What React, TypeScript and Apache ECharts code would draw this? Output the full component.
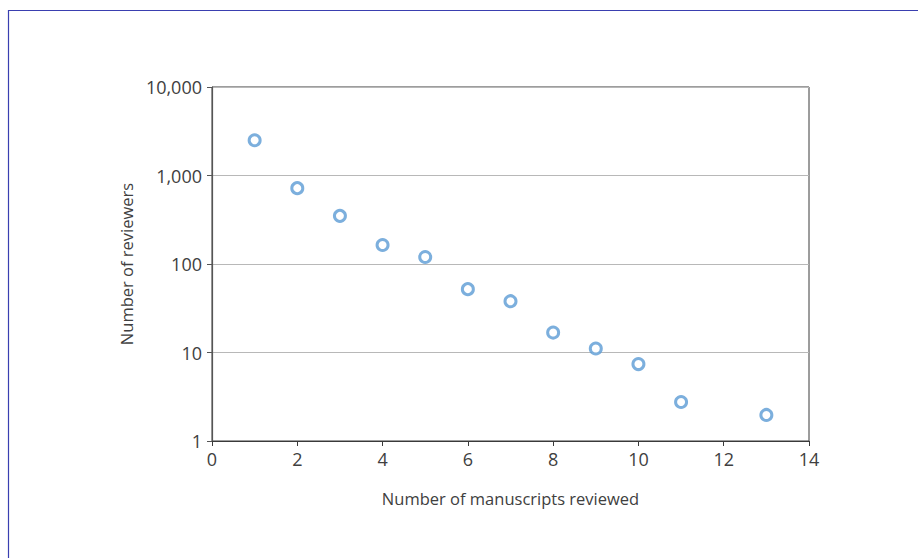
import React, { useEffect, useRef } from "react";
import * as echarts from "echarts";

const manuscripts = [1, 2, 3, 4, 5, 6, 7, 8, 9, 10, 11, 13];
const reviewers = [2500, 720, 350, 164, 120, 52, 38, 16.8, 11.1, 7.4, 2.76, 1.97];
const xTicks = [0, 2, 4, 6, 8, 10, 12, 14];
const yTicks = [1, 10, 100, 1000, 10000];
const xTitle = "Number of manuscripts reviewed";
const yTitle = "Number of reviewers";

export default function App() {
  const ref = useRef<HTMLDivElement>(null);
  useEffect(() => {
    if (!ref.current) return;
    const chart = echarts.init(ref.current, null, { renderer: "svg" });
    const font = "'Open Sans', sans-serif";
    const textColor = "#404040";
    chart.setOption({
      animation: false,
      backgroundColor: "#ffffff",
      grid: {
        left: 212,
        right: 109,
        top: 87,
        bottom: 117,
        show: true,
        borderColor: "#3a3a3a",
        borderWidth: 1,
      },
      graphic: [
        { type: "line", shape: { x1: 8.5, y1: 10, x2: 8.5, y2: 558 }, style: { stroke: "#3a3fb0", lineWidth: 1.2 } },
        { type: "line", shape: { x1: 8, y1: 10.5, x2: 918, y2: 10.5 }, style: { stroke: "#3a3fb0", lineWidth: 1.2 } },
      ],
      xAxis: {
        type: "value",
        min: xTicks[0],
        max: xTicks[xTicks.length - 1],
        interval: 2,
        name: xTitle,
        nameLocation: "middle",
        nameGap: 49,
        nameTextStyle: { fontFamily: font, fontSize: 16.5, color: textColor },
        axisLine: { show: true, lineStyle: { color: "#3a3a3a", width: 1.2 } },
        axisTick: { show: true, length: 5, lineStyle: { color: "#3a3a3a" } },
        axisLabel: { fontFamily: font, fontSize: 18, color: textColor, margin: 9 },
        splitLine: { show: false },
      },
      yAxis: {
        type: "log",
        logBase: 10,
        min: yTicks[0],
        max: yTicks[yTicks.length - 1],
        name: yTitle,
        nameLocation: "middle",
        nameGap: 76,
        nameTextStyle: { fontFamily: font, fontSize: 16.5, color: textColor },
        axisLine: { show: true, lineStyle: { color: "#555555", width: 1.2 } },
        axisTick: { show: true, length: 5, lineStyle: { color: "#555555" } },
        axisLabel: {
          fontFamily: font,
          fontSize: 18,
          color: textColor,
          margin: 10,
          formatter: (v: number) => Math.round(v).toLocaleString("en-US"),
        },
        splitLine: { show: true, lineStyle: { color: "#b8b8b8", width: 1.2 } },
      },
      series: [
        {
          type: "scatter",
          data: manuscripts.map((m, i) => [m, reviewers[i]]),
          symbol: "circle",
          symbolSize: 11,
          itemStyle: { color: "#ffffff", borderColor: "#5b9bd5", borderWidth: 3 },
        },
      ],
    });
    return () => chart.dispose();
  }, []);
  return <div ref={ref} style={{ position: "fixed", left: 0, top: 0, width: 918, height: 558 }} />;
}
